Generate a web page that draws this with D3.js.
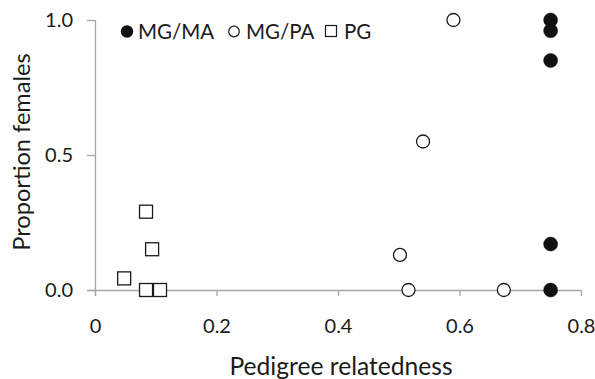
<!DOCTYPE html>
<html>
<head>
<meta charset="utf-8">
<script src="https://cdn.jsdelivr.net/npm/d3@7"></script>
<style>
  html, body { margin: 0; padding: 0; background: #fff; }
  svg { display: block; }
  text { font-family: Lato, "Open Sans", sans-serif; fill: #1a1a1a; }
</style>
</head>
<body>
<svg id="chart" width="595" height="379"></svg>
<script>
// ---- data ----
const seriesNames = ["MG/MA", "MG/PA", "PG"];
const mgmaX = [0.75, 0.75, 0.75, 0.75, 0.75];
const mgmaY = [1.0, 0.96, 0.85, 0.17, 0.0];
const mgpaX = [0.59, 0.54, 0.502, 0.516, 0.673];
const mgpaY = [1.0, 0.55, 0.13, 0.0, 0.0];
const pgX = [0.048, 0.084, 0.094, 0.084, 0.107];
const pgY = [0.043, 0.29, 0.151, 0.0, 0.0];
const xTicks = [0, 0.2, 0.4, 0.6, 0.8];
const yTicks = [0, 0.5, 1.0];
const xTitle = "Pedigree relatedness";
const yTitle = "Proportion females";

// ---- layout ----
const svg = d3.select("#chart");
const x = d3.scaleLinear().domain([0, 0.8]).range([95, 581]);
const y = d3.scaleLinear().domain([0, 1]).range([290, 20]);
const axisColor = "#a6a6a6";

// x axis
const gx = svg.append("g").attr("transform", `translate(0,${y(0)})`)
  .call(d3.axisBottom(x).tickValues(xTicks).tickSize(6).tickPadding(23)
    .tickFormat(d => d === 0 ? "0" : d3.format(".1f")(d)));
gx.select(".domain").attr("stroke", axisColor).attr("stroke-width", 1.3)
  .attr("d", `M87,0.5H581`);
gx.selectAll(".tick line").attr("stroke", axisColor).attr("stroke-width", 1.3);
gx.selectAll(".tick text").style("font-size", "20px").style("font-family", "Lato").attr("fill", "#1a1a1a");

// y axis
const gy = svg.append("g").attr("transform", `translate(${x(0)},0)`)
  .call(d3.axisLeft(y).tickValues(yTicks).tickSize(8).tickPadding(14)
    .tickFormat(d3.format(".1f")));
gy.select(".domain").attr("stroke", axisColor).attr("stroke-width", 1.3)
  .attr("d", `M0.5,${y(1)}V${y(0) + 6}`);
gy.selectAll(".tick line").attr("stroke", axisColor).attr("stroke-width", 1.3);
gy.selectAll(".tick text").style("font-size", "20px").style("font-family", "Lato").attr("fill", "#1a1a1a");

// titles
svg.append("text").attr("x", 341).attr("y", 375).attr("text-anchor", "middle")
  .style("font-size", "24.6px").text(xTitle);
svg.append("text").attr("transform", `translate(30,152) rotate(-90)`).attr("text-anchor", "middle")
  .style("font-size", "23.6px").text(yTitle);

// points
const mk = "#1a1a1a";
const pg = d3.zip(pgX, pgY);
svg.append("g").selectAll("rect").data(pg).join("rect")
  .attr("x", d => x(d[0]) - 6.5).attr("y", d => y(d[1]) - 6.5)
  .attr("width", 13).attr("height", 13)
  .attr("fill", "#fff").attr("stroke", mk).attr("stroke-width", 1.3);

const mgpa = d3.zip(mgpaX, mgpaY);
svg.append("g").selectAll("circle").data(mgpa).join("circle")
  .attr("cx", d => x(d[0])).attr("cy", d => y(d[1])).attr("r", 6.5)
  .attr("fill", "#fff").attr("stroke", mk).attr("stroke-width", 1.3);

const mgma = d3.zip(mgmaX, mgmaY);
svg.append("g").selectAll("circle").data(mgma).join("circle")
  .attr("cx", d => x(d[0])).attr("cy", d => y(d[1])).attr("r", 7)
  .attr("fill", "#111").attr("stroke", "#111").attr("stroke-width", 0.5);

// legend
const lg = svg.append("g");
lg.append("circle").attr("cx", 127).attr("cy", 31.5).attr("r", 6.2).attr("fill", "#111");
lg.append("text").attr("x", 138).attr("y", 39).style("font-size", "20.5px").text(seriesNames[0]);
lg.append("circle").attr("cx", 234).attr("cy", 31.5).attr("r", 5.3)
  .attr("fill", "#fff").attr("stroke", mk).attr("stroke-width", 1.2);
lg.append("text").attr("x", 246).attr("y", 39).style("font-size", "20.5px").text(seriesNames[1]);
lg.append("rect").attr("x", 325.5).attr("y", 25.5).attr("width", 11).attr("height", 11)
  .attr("fill", "#fff").attr("stroke", mk).attr("stroke-width", 1.2);
lg.append("text").attr("x", 344).attr("y", 39).style("font-size", "20.5px").text(seriesNames[2]);
</script>
</body>
</html>
